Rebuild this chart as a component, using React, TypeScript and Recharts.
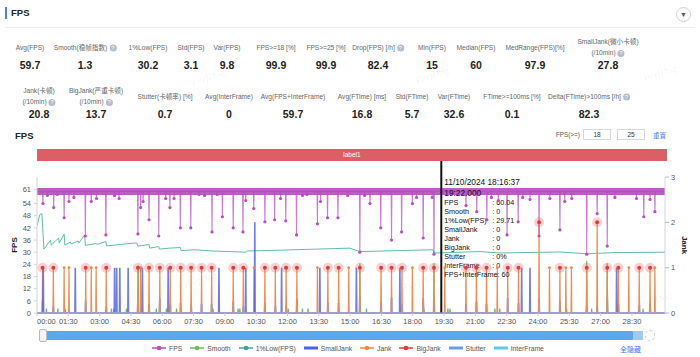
import React from "react";
import { ComposedChart, Line, XAxis, YAxis, ReferenceLine } from "recharts";

const FONT = '"Liberation Sans", Arial, "Noto Sans CJK SC", sans-serif';

// time in seconds from the start of the session
const END_T = 1805;
const FPS_BASE = 60;
const X_TICKS = [0, 90, 180, 270, 360, 450, 540, 630, 720, 810, 900, 990, 1080, 1170, 1260, 1350, 1440, 1530, 1620, 1710];
const FPS_TICKS = [0, 6, 12, 18, 24, 30, 36, 42, 48, 54, 61];
const JANK_TICKS = [0, 1, 2, 3];

// [t, fps] frame-rate drops below the ~60 band
const FPS_DIPS: [number, number][] = [
  [17, 54], [30, 58], [48, 52], [59, 58.5], [78, 47], [92, 55], [106, 57], [139, 38], [156, 55], [171, 56.5],
  [198, 38.5], [223, 58], [236, 56.5], [290, 39], [298, 52], [305, 55], [322, 46], [350, 38], [370, 56.5], [382, 52],
  [394, 56.5], [412, 42], [442, 42], [466, 58.5], [482, 58], [503, 40], [518, 58.5], [533, 47.5], [564, 42], [592, 40],
  [600, 55.5], [623, 51.5], [655, 45], [683, 46], [700, 56.5], [715, 45.5], [746, 38.5], [763, 58], [776, 58.5], [806, 44],
  [815, 55], [835, 47], [865, 47], [893, 58], [928, 30], [942, 58], [957, 54], [988, 42], [1019, 36], [1048, 40],
  [1079, 54], [1091, 57], [1110, 37], [1136, 57], [1141, 29], [1233, 53], [1264, 50], [1293, 46], [1306, 57], [1326, 55.5],
  [1351, 38.5], [1383, 45], [1396, 57], [1417, 56], [1443, 38], [1474, 56.5], [1503, 41], [1517, 55], [1537, 56.5], [1580, 29],
  [1610, 49], [1639, 33], [1661, 57], [1723, 56.5], [1744, 47.5], [1762, 56], [1776, 50],
];

// [t, 1%Low(FPS)]
const LOW_1PCT: [number, number][] = [
  [0, 43], [8, 48.5], [14, 49], [20, 31.5], [39, 36], [41, 33.5], [62, 37], [64, 34.5], [78, 39], [80, 33.5],
  [96, 35], [98, 34], [118, 35.5], [120, 34.5], [137, 38.5], [139, 33.3], [170, 34.3], [172, 33.8], [198, 35.3], [200, 33.1],
  [240, 33.8], [286, 34.6], [290, 33], [322, 33.8], [324, 32], [350, 32.8], [352, 31.5], [380, 32], [412, 32.3], [414, 30.8],
  [454, 31.2], [503, 30.6], [600, 30], [605, 30.6], [700, 31], [800, 31.5], [899, 32], [928, 30.3], [1020, 30.7], [1138, 31.2],
  [1142, 29.6], [1273, 30.3], [1331, 29.6], [1503, 30.1], [1580, 29.2], [1660, 29.8], [1805, 30],
];

// [t, jank level] on the right axis
const JANK: [number, number][] = [
  [16, 1], [47, 1], [78, 1], [92, 1], [140, 1], [156, 1], [170, 1], [199, 1], [290, 1], [298, 1],
  [322, 1], [353, 1], [383, 1], [413, 1], [443, 1], [473, 1], [502, 1], [564, 1], [593, 1], [624, 1],
  [655, 1], [685, 1], [716, 1], [747, 1], [806, 1], [836, 1], [867, 1], [896, 1], [928, 1], [989, 1],
  [1019, 1], [1049, 1], [1079, 1], [1110, 1], [1141, 1], [1172, 1], [1233, 1], [1263, 1], [1292, 1], [1323, 1],
  [1353, 1], [1384, 1], [1443, 2], [1473, 1], [1503, 1], [1520, 1], [1536, 1], [1580, 1], [1610, 2], [1639, 1],
  [1671, 1], [1701, 1], [1731, 1], [1762, 1], [1776, 1],
];

const BIG_JANK: [number, number][] = [
  [16, 1], [47, 1], [140, 1], [199, 1], [290, 1], [322, 1], [353, 1], [383, 1], [413, 1], [443, 1],
  [473, 1], [502, 1], [564, 1], [593, 1], [655, 1], [685, 1], [716, 1], [747, 1], [836, 1], [867, 1],
  [928, 1], [989, 1], [1019, 1], [1049, 1], [1110, 1], [1141, 1], [1233, 1], [1263, 1], [1292, 1], [1353, 1],
  [1384, 1], [1443, 2], [1503, 1], [1580, 1], [1610, 2], [1639, 1], [1671, 1], [1731, 1], [1762, 1],
];

const SMALL_JANK: [number, number][] = [
  [18, 1], [110, 1], [223, 1], [229, 1], [238, 1], [262, 1], [303, 1], [377, 1], [523, 1], [600, 1],
  [626, 2], [703, 1], [813, 1], [918, 1], [1043, 1], [1393, 1], [1417, 1], [1666, 1],
];

const STUTTER: [number, number][] = [
  [16, 0.26], [47, 0.14], [140, 0.27], [199, 0.15], [290, 0.3], [322, 0.18], [353, 0.32], [383, 0.18], [413, 0.22], [443, 0.18],
  [473, 0.2], [502, 0.2], [564, 0.26], [593, 0.15], [655, 0.22], [685, 0.15], [716, 0.17], [747, 0.31], [836, 0.22], [867, 0.22],
  [928, 0.37], [989, 0.26], [1019, 0.34], [1049, 0.2], [1110, 0.33], [1141, 0.43], [1233, 0.2], [1263, 0.25], [1292, 0.2], [1353, 0.33],
  [1384, 0.22], [1443, 0.33], [1503, 0.26], [1580, 0.15], [1610, 0.15], [1639, 0.3], [1671, 0.2], [1731, 0.17], [1762, 0.2],
];

const SMOOTH: [number, number][] = [
  [27, 0.1], [60, 0.1], [81, 0.1], [214, 0.1], [221, 0.1], [257, 0.1], [291, 1.05], [343, 0.1], [372, 0.1], [401, 0.1],
  [506, 0.1], [578, 0.1], [583, 0.1], [722, 0.1], [763, 0.1], [779, 0.1], [928, 1.1], [947, 0.1], [1112, 0.1], [1141, 1.1],
  [1181, 0.1], [1187, 0.1], [1316, 0.1], [1330, 0.1], [1522, 0.1], [1580, 1.15], [1594, 0.1], [1639, 1.1], [1742, 0.1],
];

const CURSOR_T = 1162;
const TIP_DATE = "11/10/2024 18:16:37";
const TIP_TIME = "19:22.000";
const TIP_NAMES = ["FPS", "Smooth", "1%Low(FPS)", "SmallJank", "Jank", "BigJank", "Stutter", "InterFrame"];
const TIP_VALUES = ["60.04", "0", "29.71", "0", "0", "0", "0%", "0"];
const TIP_LAST = "FPS+InterFrame: 60";

const STAT_LABELS_1 = ["Avg(FPS)", "Smooth(稳帧指数)", "1%Low(FPS)", "Std(FPS)", "Var(FPS)", "FPS>=18 [%]", "FPS>=25 [%]", "Drop(FPS) [/h]", "Min(FPS)", "Median(FPS)", "MedRange(FPS)[%]", "SmallJank(微小卡顿)\n(/10min)"];
const STAT_VALUES_1 = ["59.7", "1.3", "30.2", "3.1", "9.8", "99.9", "99.9", "82.4", "15", "60", "97.9", "27.8"];
const STAT_HELP_1 = [false, true, false, false, false, false, false, true, false, false, false, true];
const STAT_LABELS_2 = ["Jank(卡顿)\n(/10min)", "BigJank(严重卡顿)\n(/10min)", "Stutter(卡顿率) [%]", "Avg(InterFrame)", "Avg(FPS+InterFrame)", "Avg(FTime) [ms]", "Std(FTime)", "Var(FTime)", "FTime>=100ms [%]", "Delta(FTime)>100ms [/h]"];
const STAT_VALUES_2 = ["20.8", "13.7", "0.7", "0", "59.7", "16.8", "5.7", "32.6", "0.1", "82.3"];
const STAT_HELP_2 = [true, true, false, false, false, false, false, false, false, true];

const LEGEND_NAMES = ["FPS", "Smooth", "1%Low(FPS)", "SmallJank", "Jank", "BigJank", "Stutter", "InterFrame"];

// layout (not data)
const STAT_X_1 = [30, 85, 148, 191, 227, 276, 326, 378, 432, 476, 535, 608];
const STAT_X_2 = [39, 96, 165, 229, 293, 362, 412, 454, 512, 589];

const C = {
  fps: "#b64fc0",
  smooth: "#6fb95e",
  low: "#62bcae",
  small: "#4b5cf0",
  jank: "#f5894a",
  big: "#e23b3b",
  stutter: "#6a9cf5",
  inter: "#5ec8e6",
};
const LEGEND_COLORS = [C.fps, C.smooth, "#3fa497", C.small, C.jank, C.big, C.stutter, C.inter];
const LEGEND_THICK = [false, false, false, true, false, false, true, true];

type Row = {
  t: number;
  fps: number;
  dip: boolean;
  low: number | null;
  jank: number;
  big: number | null;
  small: number;
  stutter: number;
  smooth: number;
};

function buildRows(): Row[] {
  const times = new Set<number>([0, END_T]);
  [FPS_DIPS, JANK, SMALL_JANK, STUTTER, SMOOTH].forEach((list) =>
    list.forEach(([t]) => {
      times.add(t - 1);
      times.add(t);
      times.add(t + 1);
    })
  );
  LOW_1PCT.forEach(([t]) => times.add(t));
  const dips = new Map(FPS_DIPS);
  const low = new Map(LOW_1PCT);
  const jank = new Map(JANK);
  const big = new Map(BIG_JANK);
  const small = new Map(SMALL_JANK);
  const stutter = new Map(STUTTER);
  const smooth = new Map(SMOOTH);
  return [...times]
    .filter((t) => t >= 0 && t <= END_T)
    .sort((a, b) => a - b)
    .map((t) => ({
      t,
      fps: dips.get(t) ?? FPS_BASE,
      dip: dips.has(t),
      low: low.get(t) ?? null,
      jank: jank.get(t) ?? 0,
      big: big.get(t) ?? null,
      small: small.get(t) ?? 0,
      stutter: stutter.get(t) ?? 0,
      smooth: smooth.get(t) ?? 0,
    }));
}

const rows = buildRows();

const fmt = (t: number) => {
  const m = Math.floor(t / 60);
  const s = t % 60;
  return `${String(m).padStart(2, "0")}:${String(s).padStart(2, "0")}`;
};

const TimeTick = (p: any) => (
  <text
    x={p.x}
    y={p.y}
    dy={6}
    textAnchor={p.index === 0 ? "start" : "middle"}
    fontSize={7.5}
    fill="#555"
    fontFamily={FONT}
  >
    {fmt(p.payload.value)}
  </text>
);

const fpsDot = (p: any) =>
  p.payload && p.payload.dip ? (
    <circle key={`fd${p.index}`} cx={p.cx} cy={p.cy} r={1.6} fill={C.fps} />
  ) : (
    <g key={`fd${p.index}`} />
  );

const jankDot = (p: any) =>
  p.payload && p.payload.jank > 0 && p.payload.big == null ? (
    <circle key={`jd${p.index}`} cx={p.cx} cy={p.cy} r={1.4} fill={C.jank} />
  ) : (
    <g key={`jd${p.index}`} />
  );

const bigDot = (p: any) =>
  p.value != null && p.cy != null ? (
    <g key={`bd${p.index}`}>
      <circle cx={p.cx} cy={p.cy} r={5} fill="rgba(232,90,90,0.28)" />
      <circle cx={p.cx} cy={p.cy} r={2} fill={C.big} />
    </g>
  ) : (
    <g key={`bd${p.index}`} />
  );

const CursorTip = (props: any) => {
  const vb = props.viewBox || {};
  const x = vb.x ?? 0;
  const top = vb.y ?? 0;
  return (
    <g fontFamily={FONT} fill="#111">
      <line x1={x} x2={x} y1={top - 16} y2={top} stroke="#111" strokeWidth={2} />
      <text x={x + 3} y={top + 8} fontSize={8.3}>{TIP_DATE}</text>
      <text x={x + 3} y={top + 19} fontSize={8.3}>{TIP_TIME}</text>
      {TIP_NAMES.map((n, i) => (
        <g key={n}>
          <text x={x + 3} y={top + 28 + i * 9} fontSize={7.2}>{n}</text>
          <text x={x + 51} y={top + 28 + i * 9} fontSize={7.2}>{`: ${TIP_VALUES[i]}`}</text>
        </g>
      ))}
      <text x={x + 3} y={top + 28 + TIP_NAMES.length * 9} fontSize={7.2}>{TIP_LAST}</text>
    </g>
  );
};

const Help = () => (
  <span
    style={{
      display: "inline-block",
      width: 7,
      height: 7,
      borderRadius: 4,
      background: "#b4bccb",
      color: "#fff",
      fontSize: 5.5,
      lineHeight: "7px",
      textAlign: "center",
      marginLeft: 2,
      verticalAlign: "middle",
    }}
  >
    ?
  </span>
);

const StatCell = ({ label, value, help, x, ly, vy }: any) => {
  const lines = String(label).split("\n");
  return (
    <>
      <div
        style={{
          position: "absolute",
          left: x,
          top: ly,
          transform: "translate(-50%, -50%)",
          fontSize: 6.6,
          lineHeight: "11px",
          color: "#666",
          textAlign: "center",
          whiteSpace: "nowrap",
        }}
      >
        {lines.map((l, i) => (
          <div key={i}>
            {l}
            {help && i === lines.length - 1 ? <Help /> : null}
          </div>
        ))}
      </div>
      <div
        style={{
          position: "absolute",
          left: x,
          top: vy,
          transform: "translate(-50%, -50%)",
          fontSize: 10.5,
          fontWeight: 600,
          color: "#222",
          whiteSpace: "nowrap",
        }}
      >
        {value}
      </div>
    </>
  );
};

const Watermark = ({ x, y }: { x: number; y: number }) => (
  <div
    style={{
      position: "absolute",
      left: x,
      top: y,
      transform: "translate(-50%, -50%) rotate(-18deg)",
      fontFamily: "serif",
      fontStyle: "italic",
      fontSize: 10,
      color: "rgba(0,0,0,0.07)",
      whiteSpace: "nowrap",
    }}
  >
    PerfDog
  </div>
);

export default function App() {
  return (
    <div
      style={{
        position: "absolute",
        left: 0,
        top: 0,
        width: 700,
        height: 357,
        background: "#fff",
        fontFamily: FONT,
        overflow: "hidden",
      }}
    >
      {/* header */}
      <div style={{ position: "absolute", left: 5, top: 7, width: 2, height: 12, background: "#4f7cf7" }} />
      <div style={{ position: "absolute", left: 11, top: 7, fontSize: 9.5, fontWeight: 700, color: "#222" }}>FPS</div>
      <div
        style={{
          position: "absolute",
          left: 676,
          top: 7,
          width: 13,
          height: 13,
          borderRadius: 8,
          border: "1px solid #cfd3d9",
          color: "#555",
          fontSize: 7,
          lineHeight: "13px",
          textAlign: "center",
        }}
      >
        ▼
      </div>
      <div style={{ position: "absolute", left: 5, top: 27, width: 690, height: 1, background: "#eceef1" }} />

      {/* stats */}
      {STAT_LABELS_1.map((l, i) => (
        <StatCell key={`a${i}`} label={l} value={STAT_VALUES_1[i]} help={STAT_HELP_1[i]} x={STAT_X_1[i]} ly={47} vy={65} />
      ))}
      {STAT_LABELS_2.map((l, i) => (
        <StatCell key={`b${i}`} label={l} value={STAT_VALUES_2[i]} help={STAT_HELP_2[i]} x={STAT_X_2[i]} ly={96} vy={114} />
      ))}
      <Watermark x={208} y={77} />
      <Watermark x={432} y={75} />
      <Watermark x={660} y={73} />

      {/* chart toolbar */}
      <div style={{ position: "absolute", left: 15, top: 130, fontSize: 9.5, fontWeight: 700, color: "#222" }}>FPS</div>
      <div style={{ position: "absolute", left: 556, top: 131, fontSize: 6.3, color: "#555" }}>FPS(&gt;=)</div>
      {["18", "25"].map((v, i) => (
        <div
          key={v}
          style={{
            position: "absolute",
            left: 583 + i * 34,
            top: 129,
            width: 28,
            height: 11,
            border: "1px solid #d5d8dd",
            boxSizing: "border-box",
            fontSize: 6.5,
            lineHeight: "9px",
            textAlign: "center",
            color: "#333",
          }}
        >
          {v}
        </div>
      ))}
      <div style={{ position: "absolute", left: 653, top: 130, fontSize: 6.5, color: "#4a78f5" }}>重置</div>
      <div
        style={{
          position: "absolute",
          left: 37,
          top: 149,
          width: 630,
          height: 12,
          background: "#dc5f66",
          color: "#fff",
          fontSize: 6.5,
          lineHeight: "12px",
          textAlign: "center",
        }}
      >
        label1
      </div>

      {/* chart */}
      <div style={{ position: "absolute", left: 0, top: 150 }}>
        <ComposedChart width={700} height={190} data={rows} margin={{ top: 27, right: 0, bottom: 0, left: 0 }}>
          <XAxis
            dataKey="t"
            type="number"
            domain={[0, END_T]}
            ticks={X_TICKS}
            allowDataOverflow
            height={27}
            axisLine={{ stroke: "#ccc" }}
            tickLine={{ stroke: "#ccc" }}
            tickSize={3}
            tickMargin={2}
            tick={<TimeTick />}
            interval={0}
          />
          <YAxis
            yAxisId="fps"
            width={37}
            domain={[0, 67.1]}
            ticks={FPS_TICKS}
            interval={0}
            axisLine={{ stroke: "#d5d5d5" }}
            tickLine={{ stroke: "#d5d5d5" }}
            tickSize={3}
            tickMargin={3}
            tick={{ fontSize: 7.5, fill: "#555", fontFamily: FONT }}
            label={{ value: "FPS", angle: -90, position: "center", dx: -4, fontSize: 8, fontWeight: 700, fill: "#222" }}
          />
          <YAxis
            yAxisId="jank"
            orientation="right"
            width={35}
            domain={[0, 3]}
            ticks={JANK_TICKS}
            interval={0}
            axisLine={{ stroke: "#d5d5d5" }}
            tickLine={{ stroke: "#bbb" }}
            tickSize={4}
            tickMargin={2}
            tick={{ fontSize: 7.5, fill: "#555", fontFamily: FONT }}
            label={{ value: "Jank", angle: 90, position: "center", dx: 2, fontSize: 8, fontWeight: 700, fill: "#222" }}
          />
          <ReferenceLine yAxisId="fps" y={FPS_BASE} stroke={C.fps} strokeWidth={7} strokeOpacity={0.92} />
          <Line yAxisId="jank" dataKey="stutter" stroke={C.stutter} strokeWidth={1.8} dot={false} activeDot={false} isAnimationActive={false} />
          <Line yAxisId="jank" dataKey="smooth" stroke={C.smooth} strokeWidth={1.2} dot={false} activeDot={false} isAnimationActive={false} />
          <Line yAxisId="fps" dataKey="low" stroke={C.low} strokeWidth={1} connectNulls dot={false} activeDot={false} isAnimationActive={false} />
          <Line yAxisId="jank" dataKey="jank" stroke={C.jank} strokeWidth={1.2} dot={jankDot} activeDot={false} isAnimationActive={false} />
          <Line yAxisId="jank" dataKey="small" stroke={C.small} strokeWidth={1.6} strokeOpacity={0.8} dot={false} activeDot={false} isAnimationActive={false} />
          <Line yAxisId="fps" dataKey="fps" stroke={C.fps} strokeWidth={1.1} strokeOpacity={0.75} dot={fpsDot} activeDot={false} isAnimationActive={false} />
          <Line yAxisId="jank" dataKey="big" stroke="none" dot={bigDot} activeDot={false} isAnimationActive={false} />
          <ReferenceLine yAxisId="fps" x={CURSOR_T} stroke="#111" strokeWidth={2} label={<CursorTip />} />
        </ComposedChart>
      </div>
      <Watermark x={200} y={280} />
      <Watermark x={420} y={282} />
      <Watermark x={655} y={300} />

      {/* data zoom slider */}
      <div style={{ position: "absolute", left: 40, top: 331, width: 593, height: 9, background: "#5aa9ef", borderRadius: 1 }} />
      <div
        style={{
          position: "absolute",
          left: 39,
          top: 329,
          width: 8,
          height: 13,
          background: "#f4f4f4",
          border: "1px solid #bbb",
          borderRadius: 2,
          boxSizing: "border-box",
        }}
      />
      <div style={{ position: "absolute", left: 633, top: 331, width: 10, height: 9, background: "#9ccbf5" }} />
      <div
        style={{
          position: "absolute",
          left: 645,
          top: 330,
          width: 10,
          height: 11,
          border: "1px dashed #ccc",
          borderRadius: 5,
          boxSizing: "border-box",
        }}
      />

      {/* legend */}
      <div
        style={{
          position: "absolute",
          left: 152,
          top: 344,
          display: "flex",
          alignItems: "center",
          gap: 8,
          fontSize: 6.8,
          color: "#555",
          whiteSpace: "nowrap",
        }}
      >
        {LEGEND_NAMES.map((n, i) => (
          <div key={n} style={{ display: "flex", alignItems: "center", gap: 3 }}>
            <svg width={14} height={8}>
              <line x1={0} x2={14} y1={4} y2={4} stroke={LEGEND_COLORS[i]} strokeWidth={LEGEND_THICK[i] ? 3 : 1.5} />
              {LEGEND_THICK[i] ? null : <circle cx={7} cy={4} r={2.3} fill={LEGEND_COLORS[i]} />}
            </svg>
            <span>{n}</span>
          </div>
        ))}
      </div>
      <div style={{ position: "absolute", left: 620, top: 344, fontSize: 7, color: "#3c7af0" }}>全隐藏</div>
    </div>
  );
}
